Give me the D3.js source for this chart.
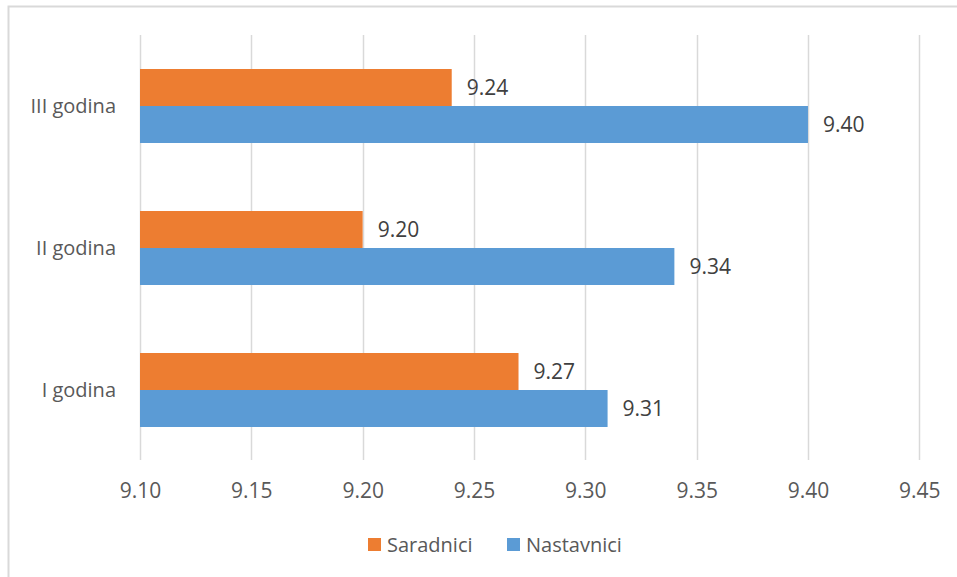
<!DOCTYPE html>
<html><head><meta charset="utf-8">
<script src="https://cdn.jsdelivr.net/npm/d3@7"></script>
<style>body{margin:0;background:#fff}svg{display:block}</style>
</head><body>
<svg id="c" width="957" height="577"></svg>
<script>
const categories = ["III godina", "II godina", "I godina"];
const seriesNames = ["Saradnici", "Nastavnici"];
const saradnici = [9.24, 9.20, 9.27];
const nastavnici = [9.40, 9.34, 9.31];
const ticks = [9.10, 9.15, 9.20, 9.25, 9.30, 9.35, 9.40, 9.45];
const colors = ["#ED7D31", "#5B9BD5"];

const svg = d3.select("#c");
const font = "'Open Sans', 'Liberation Sans', sans-serif";
svg.append("rect").attr("x",8.5).attr("y",6.5).attr("width",1000).attr("height",600)
  .attr("fill","#fff").attr("stroke","#D9D9D9").attr("stroke-width",2);

const x = d3.scaleLinear().domain([9.10, 9.45]).range([140, 919.3]);
const y0 = d3.scaleBand().domain(categories).range([35, 461]).paddingInner(0.479).paddingOuter(0.2395);
const y1 = d3.scaleBand().domain(seriesNames).range([0, y0.bandwidth()]);

// gridlines
svg.append("g").selectAll("line").data(ticks).join("line")
  .attr("x1", d => Math.round(x(d)) + 0.5).attr("x2", d => Math.round(x(d)) + 0.5)
  .attr("y1", 35).attr("y2", 460).attr("stroke", "#D9D9D9").attr("stroke-width", 1.5);

const data = categories.map((c, i) => ({c, vals: [saradnici[i], nastavnici[i]]}));
const g = svg.append("g").selectAll("g").data(data).join("g")
  .attr("transform", d => `translate(0,${y0(d.c)})`);
g.selectAll("rect").data(d => d.vals.map((v, j) => ({v, s: seriesNames[j], j}))).join("rect")
  .attr("x", x(9.10)).attr("y", d => y1(d.s)).attr("width", d => x(d.v) - x(9.10))
  .attr("height", y1.bandwidth()).attr("fill", d => colors[d.j]);
g.selectAll("text").data(d => d.vals.map((v, j) => ({v, s: seriesNames[j], j}))).join("text")
  .attr("x", d => x(d.v) + 15).attr("y", d => y1(d.s) + y1.bandwidth()/2)
  .attr("dy", "0.36em").attr("font-family", font).attr("font-size", 21).attr("fill", "#404040")
  .text(d => d.v.toFixed(2));

// y axis labels
svg.append("g").selectAll("text").data(categories).join("text")
  .attr("x", 116).attr("y", d => y0(d) + y0.bandwidth()/2).attr("dy", "0.36em")
  .attr("text-anchor", "end").attr("font-family", font).attr("font-size", 20).attr("fill", "#595959")
  .text(d => d);

// x axis labels
const xAxis = d3.axisBottom(x).tickValues(ticks).tickFormat(d3.format(".2f")).tickSize(0).tickPadding(0);
const ax = svg.append("g").attr("transform", "translate(0,490)").call(xAxis);
ax.select(".domain").remove();
ax.selectAll("text").attr("font-family", font).attr("font-size", 21).attr("fill", "#595959")
  .attr("dy", "0.36em");

// legend
const leg = svg.append("g").attr("transform", "translate(368,545)");
const items = [{n: "Saradnici", c: colors[0], x: 0}, {n: "Nastavnici", c: colors[1], x: 139}];
const li = leg.selectAll("g").data(items).join("g").attr("transform", d => `translate(${d.x},0)`);
li.append("rect").attr("x", 0).attr("y", -7).attr("width", 13).attr("height", 13).attr("fill", d => d.c);
li.append("text").attr("x", 19).attr("y", 0).attr("dy", "0.36em").attr("font-family", font)
  .attr("font-size", 20).attr("fill", "#595959").text(d => d.n);
</script>
</body></html>
